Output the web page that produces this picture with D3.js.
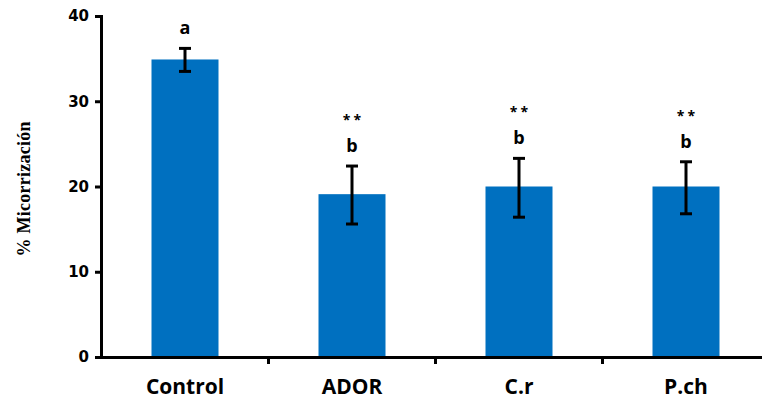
<!DOCTYPE html>
<html><head><meta charset="utf-8">
<script src="https://cdn.jsdelivr.net/npm/d3@7"></script>
<style>body{margin:0;background:#fff}svg{display:block}</style>
</head><body>
<script>
const categories = ["Control", "ADOR", "C.r", "P.ch"];
const values = [34.9, 19.1, 20.0, 20.0];
const errLow = [33.5, 15.6, 16.4, 16.8];
const errHigh = [36.2, 22.4, 23.3, 22.9];
const letters = ["a", "b", "b", "b"];
const stars = ["", "**", "**", "**"];
const yTicks = [0, 10, 20, 30, 40];

const W = 762, H = 403;
const svg = d3.select("body").append("svg").attr("width", W).attr("height", H);
const xt = d3.scaleBand().domain(categories).range([101.5, 769.5]);
const y = d3.scaleLinear().domain([0, 40]).range([357, 16]);

svg.selectAll("rect.bar").data(categories).join("rect")
  .attr("x", d => xt(d) + xt.bandwidth()/2 - 33.5)
  .attr("width", 67)
  .attr("y", (d,i) => y(values[i]))
  .attr("height", (d,i) => y(0) - y(values[i]))
  .attr("fill", "#0070C0");

// error bars
const eb = svg.append("g").attr("stroke", "#000").attr("stroke-width", 3);
categories.forEach((c, i) => {
  const cx = xt(c) + xt.bandwidth()/2;
  eb.append("line").attr("x1", cx).attr("x2", cx).attr("y1", y(errLow[i])).attr("y2", y(errHigh[i]));
  eb.append("line").attr("x1", cx-6).attr("x2", cx+6).attr("y1", y(errLow[i])).attr("y2", y(errLow[i]));
  eb.append("line").attr("x1", cx-6).attr("x2", cx+6).attr("y1", y(errHigh[i])).attr("y2", y(errHigh[i]));
  svg.append("text").attr("x", cx).attr("y", y(errHigh[i]) - 14)
    .attr("text-anchor", "middle").attr("font-family", "'Open Sans', sans-serif")
    .attr("font-weight", "bold").attr("font-size", 18).text(letters[i]);
  if (stars[i]) svg.append("text").attr("x", cx + 1.5).attr("y", y(errHigh[i]) - 41)
    .attr("text-anchor", "middle").attr("font-family", "'Open Sans', sans-serif")
    .attr("font-weight", "bold").attr("font-size", 14).attr("letter-spacing", 3).text(stars[i]);
});

// y axis
const ya = svg.append("g").attr("transform", "translate(101,0)")
  .call(d3.axisLeft(y).tickValues(yTicks).tickSize(6).tickPadding(6));
ya.select(".domain").attr("stroke-width", 3);
ya.selectAll(".tick line").attr("stroke-width", 3);
ya.selectAll(".tick text").attr("font-family", "'DejaVu Sans', sans-serif")
  .attr("font-weight", "bold").attr("font-size", 15).attr("fill", "#000");

// x axis
const xa = svg.append("g").attr("transform", "translate(0,357)")
  .call(d3.axisBottom(xt).tickSize(0).tickPadding(22).tickSizeOuter(0));
xa.select(".domain").attr("stroke-width", 3);
xa.selectAll(".tick text").attr("font-family", "'Open Sans', sans-serif")
  .attr("font-weight", "bold").attr("font-size", 21).attr("fill", "#000");
// x ticks between categories
svg.append("g").selectAll("line").data(categories.slice(1)).join("line")
  .attr("x1", d => xt(d)).attr("x2", d => xt(d))
  .attr("y1", 357).attr("y2", 364).attr("stroke", "#000").attr("stroke-width", 3);

// y title
svg.append("text").attr("transform", "translate(30,189) rotate(-90)")
  .attr("text-anchor", "middle").attr("font-family", "'Liberation Serif', serif")
  .attr("font-weight", "bold").attr("font-size", 18)
  .attr("textLength", 135).attr("lengthAdjust", "spacing").text("% Micorrización");
</script>
</body></html>
